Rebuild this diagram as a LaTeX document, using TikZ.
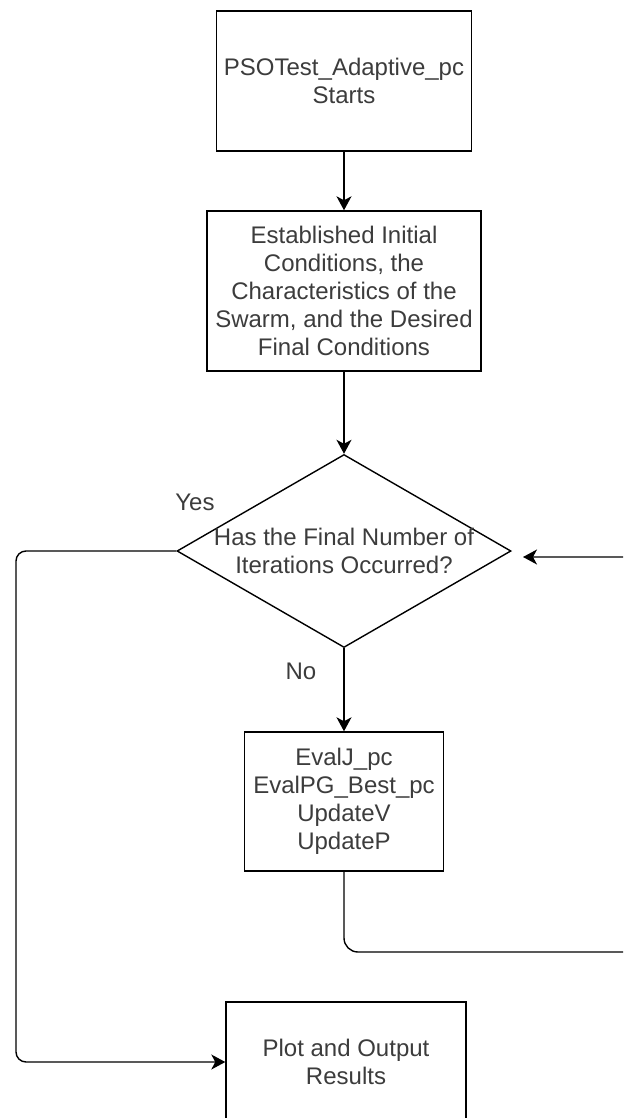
\documentclass[tikz,border=0pt]{standalone}
\usepackage{fontspec}
\setmainfont{Liberation Sans}
\usetikzlibrary{shapes.geometric,arrows.meta}
\definecolor{txtgray}{RGB}{60,60,60}
\tikzset{
    box/.style={draw,rectangle,line width=0.7pt,align=center,text=txtgray,font=\fontsize{12}{14}\selectfont,inner sep=0pt},
    decision/.style={draw,diamond,line width=0.7pt,inner sep=0pt},
    lbl/.style={text=txtgray,font=\fontsize{12}{14}\selectfont,align=center,inner sep=0pt},
    flow/.style={line width=0.7pt,-{Stealth[length=7pt,width=7.5pt,inset=2pt]}}
}
\begin{document}
\begin{tikzpicture}[x=0.5pt,y=-0.5pt]
            \useasboundingbox (0,0) rectangle (623,1118);
            \clip (0,0) rectangle (623,1118);
            \node[box,minimum width=127.5pt,minimum height=70pt] (start) at (344,81) {PSOTest\_Adaptive\_pc\\Starts};
            \node[box,minimum width=137pt,minimum height=80pt] (init) at (344,291) {Established Initial\\Conditions, the\\Characteristics of the\\Swarm, and the Desired\\Final Conditions};
            \node[decision,minimum width=167pt,minimum height=96.5pt] (check) at (344,551) {};
            \node[lbl] (checktext) at (check.center) {Has the Final Number of\\Iterations Occurred?};
            \node[box,minimum width=99.5pt,minimum height=69.5pt] (update) at (344,801.5) {EvalJ\_pc\\EvalPG\_Best\_pc\\UpdateV\\UpdateP};
            \node[box,minimum width=120pt,minimum height=60pt] (plot) at (346,1062) {Plot and Output\\Results};
            \node[lbl] (yes) at (195,502) {Yes};
            \node[lbl] (no) at (301,671) {No};

            \coordinate (yesturn) at (16,1062);
            \coordinate (loopdown) at (640,952);
            \coordinate (back) at (523,557);

            \draw[flow] (start) -- (init);
            \draw[flow] (init) -- (check);
            \draw[flow] (check) -- (update);
            \draw[flow,rounded corners=5pt] (check.west) -| (yesturn) -- (plot.west);
            \draw[flow,rounded corners=7pt] (update.south) |- (loopdown) |- (back);
        \end{tikzpicture}
\end{document}
